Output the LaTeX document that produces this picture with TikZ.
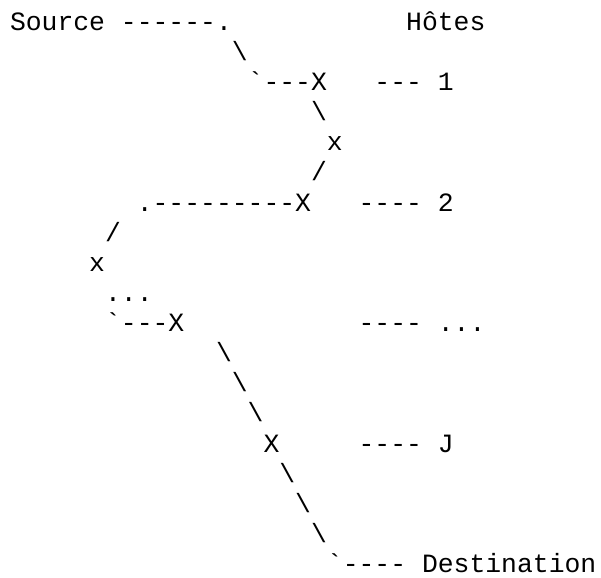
\documentclass[tikz,border=0pt]{standalone}
\usepackage{fontspec}
\setmonofont{Liberation Mono}
\tikzset{
  asc/.style={anchor=base west, inner sep=0pt, outer sep=0pt,
    font=\ttfamily\fontsize{26.5pt}{30pt}\selectfont, text=black}
}
\begin{document}
\begin{tikzpicture}[x=15.9pt, y=-30.22pt]
\fill[white] (-10.05pt,30.5pt) rectangle (593pt,-549pt);
\useasboundingbox (-10.05pt,30.5pt) rectangle (593pt,-549pt);
% row 0
\node[asc] (src) at (0,0) {Source ------.};
\node[asc] (hotes) at (25,0) {Hôtes};
% row 1-2
\node[asc] (b1) at (14,1) {\textbackslash};
\node[asc] (x1) at (15,2) {`---X};
\node[asc] (h1) at (23,2) {--- 1};
% rows 3-5
\node[asc] (b3) at (19,3) {\textbackslash};
\node[asc] (m4) at (20,4) {x};
\node[asc] (s5) at (19,5) {/};
% row 6
\node[asc] (x2) at (8,6) {.---------X};
\node[asc] (h2) at (22,6) {---- 2};
% rows 7-9
\node[asc] (s7) at (6,7) {/};
\node[asc] (m8) at (5,8) {x};
\node[asc] (d9) at (6,9) {...};
% row 10
\node[asc] (x3) at (6,10) {`---X};
\node[asc] (h3) at (22,10) {---- ...};
% rows 11-13
\node[asc] (b11) at (13,11) {\textbackslash};
\node[asc] (b12) at (14,12) {\textbackslash};
\node[asc] (b13) at (15,13) {\textbackslash};
% row 14
\node[asc] (x4) at (16,14) {X};
\node[asc] (h4) at (22,14) {---- J};
% rows 15-17
\node[asc] (b15) at (17,15) {\textbackslash};
\node[asc] (b16) at (18,16) {\textbackslash};
\node[asc] (b17) at (19,17) {\textbackslash};
% row 18
\node[asc] (dst) at (20,18) {`---- Destination};
\end{tikzpicture}
\end{document}
